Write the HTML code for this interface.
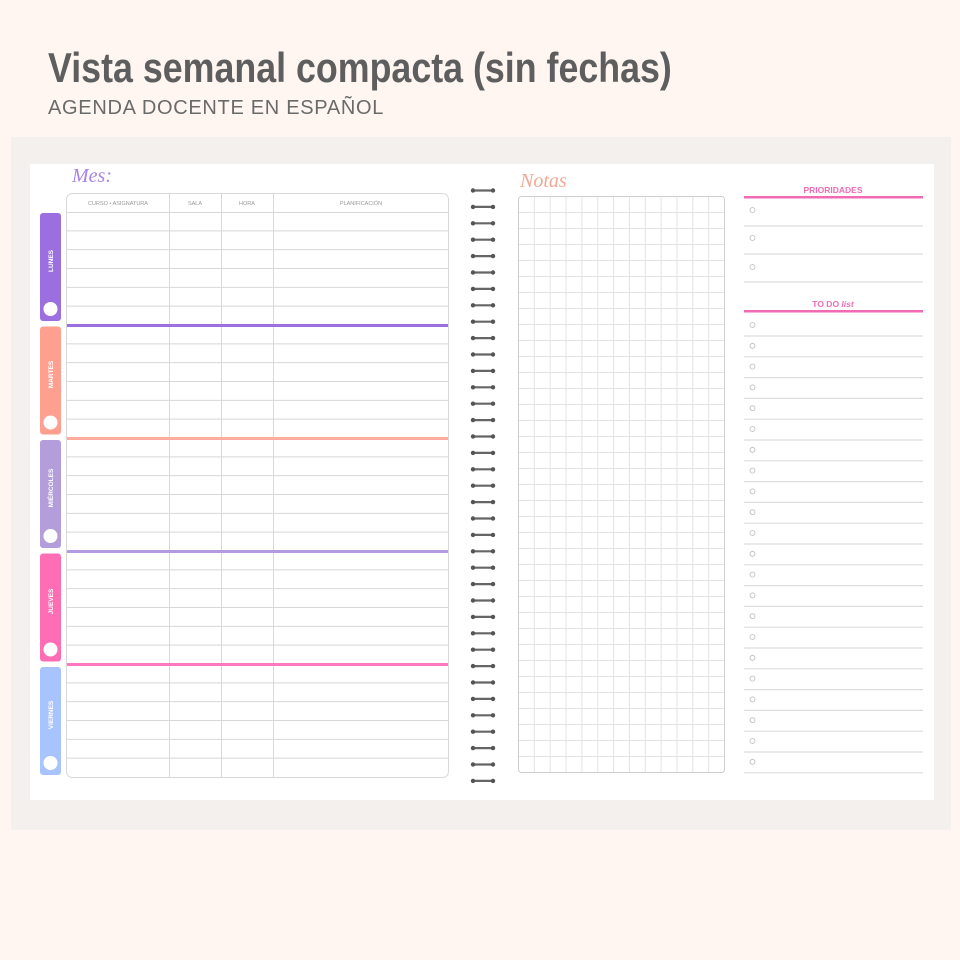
<!DOCTYPE html>
<html><head><meta charset="utf-8"><style>
body{margin:0;width:960px;height:960px;background:#fff6f2;position:relative;overflow:hidden;font-family:"Liberation Sans",sans-serif}
.a{position:absolute}
</style></head><body>
<div class="a" style="left:48px;top:44px;font-size:42px;font-weight:bold;color:#5e5e5e;white-space:nowrap;transform-origin:0 0;transform:scaleX(0.852)">Vista semanal compacta (sin fechas)</div>
<div class="a" style="left:48px;top:97px;font-size:20px;color:#6a6a6a;letter-spacing:0.7px">AGENDA DOCENTE EN ESPAÑOL</div>
<div class="a" style="left:11px;top:137px;width:940px;height:693px;background:#f4f0ee"></div>
<div class="a" style="left:30px;top:164px;width:904px;height:636px;background:#fff"></div>
<svg class="a" style="left:0;top:0" width="960" height="960">
<text x="72" y="182" font-family="Liberation Serif" font-style="italic" font-size="20" fill="#a983e8">Mes:</text>
<text x="520" y="187" font-family="Liberation Serif" font-style="italic" font-size="20" fill="#f2a894">Notas</text>
<rect x="66.5" y="193.5" width="382" height="584" rx="6" fill="none" stroke="#d8d8d8"/>
<g font-size="5.5" fill="#999" text-anchor="middle"><text x="118" y="205">CURSO • ASIGNATURA</text><text x="195" y="205">SALA</text><text x="247" y="205">HORA</text><text x="361" y="205">PLANIFICACIÓN</text></g>
<g stroke="#d8d8d8"><line x1="169.5" y1="194" x2="169.5" y2="777"/><line x1="221.5" y1="194" x2="221.5" y2="777"/><line x1="273.5" y1="194" x2="273.5" y2="777"/>
<line x1="67" y1="212.5" x2="448" y2="212.5"/>
<g id="rows"></g></g>
<g id="tabs"></g>
<g id="spiral"></g>
<rect x="518.5" y="196.5" width="206" height="576" rx="3" fill="none" stroke="#cfcfcf"/>
<g id="grid" stroke="#e3e3e3"></g>
<text x="833" y="193" font-size="8.5" font-weight="bold" fill="#f06bb4" text-anchor="middle">PRIORIDADES</text>
<rect x="744" y="196" width="179" height="2.5" fill="#f06bb4"/>
<text x="833" y="307" font-size="8.5" font-weight="bold" fill="#f06bb4" text-anchor="middle">TO DO <tspan font-style="italic">list</tspan></text>
<rect x="744" y="310" width="179" height="2.5" fill="#f06bb4"/>
<g id="right"></g>
</svg>
<script>
var ns="http://www.w3.org/2000/svg";
function el(p,t,a){var e=document.createElementNS(ns,t);for(var k in a)e.setAttribute(k,a[k]);document.getElementById(p).appendChild(e);return e;}
var sep=["#9b6fe0","#ffab9e","#b49be0","#ff77c0"];
for(var d=0;d<5;d++){var y0=212+d*113;for(var r=1;r<6;r++){var y=y0+r*113/6;el("rows","line",{x1:67,x2:448,y1:y,y2:y});}
if(d<4)el("tabs","rect",{x:67,y:y0+112,width:381,height:3,fill:sep[d]});}
var tc=["#9b6fe0","#ff9f8f","#b39ddb","#ff6eb4","#a8c4ff"],tn=["LUNES","MARTES","MIÉRCOLES","JUEVES","VIERNES"];
for(var d=0;d<5;d++){var y=213+d*113.5;el("tabs","rect",{x:40,y:y,width:21,height:108,rx:3,fill:tc[d]});
el("tabs","circle",{cx:50.5,cy:y+96,r:7,fill:"#fff"});
var t=el("tabs","text",{x:0,y:0,"font-size":6.5,"font-weight":"bold",fill:"#fff","text-anchor":"middle",transform:"translate(53,"+(y+48)+") rotate(-90)"});t.textContent=tn[d];}
for(var i=0;i<37;i++){var y=190.5+i*16.4;el("spiral","line",{x1:473,x2:493,y1:y,y2:y,stroke:"#666","stroke-width":2.2});
el("spiral","circle",{cx:473,cy:y,r:2.2,fill:"#555"});el("spiral","circle",{cx:493,cy:y,r:2.2,fill:"#555"});}
for(var i=1;i<13;i++){var x=518.5+i*206/13;el("grid","line",{x1:x,x2:x,y1:197,y2:772});}
for(var i=1;i<36;i++){var y=196.5+i*16;el("grid","line",{x1:519,x2:724,y1:y,y2:y});}
function item(cy,ly){el("right","circle",{cx:752.5,cy:cy,r:2.5,fill:"none",stroke:"#bbb","stroke-width":0.8});el("right","line",{x1:744,x2:923,y1:ly,y2:ly,stroke:"#ddd","stroke-width":1.2});}
[210,238,267].forEach(function(c,i){item(c,226+i*28);});
for(var i=0;i<22;i++){item(325+i*20.8,336+i*20.8);}
</script>
</body></html>
